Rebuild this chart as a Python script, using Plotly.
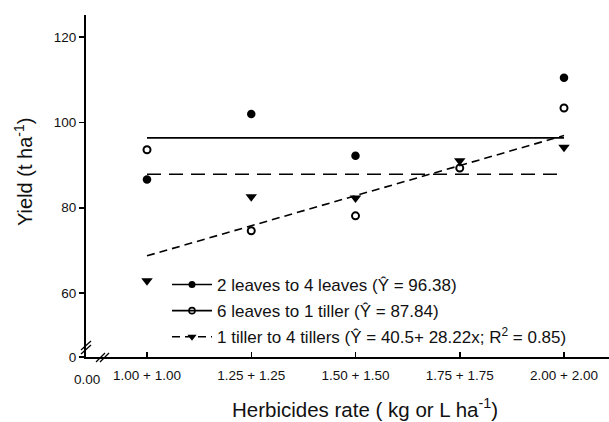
import plotly.graph_objects as go

# ---- data ----
rates = [1.00, 1.25, 1.50, 1.75, 2.00]
rate_labels = ["1.00 + 1.00", "1.25 + 1.25", "1.50 + 1.50", "1.75 + 1.75", "2.00 + 2.00"]
two_leaves = [86.6, 102.0, 92.2, None, 110.5]
six_leaves = [93.6, 74.6, 78.1, 89.3, 103.4]
one_tiller = [62.9, 82.6, 82.3, 91.0, 94.2]
mean_two = 96.38
mean_six = 87.84
reg_a, reg_b = 40.5, 28.22
y_ticks = [45, 60, 80, 100, 120]
y_tick_labels = ["0", "60", "80", "100", "120"]

names = ["2 leaves to 4 leaves (Ŷ = 96.38)",
         "6 leaves to 1 tiller (Ŷ = 87.84)",
         "1 tiller to 4 tillers (Ŷ = 40.5+ 28.22x; R<sup>2</sup> = 0.85)"]

FONT = "Liberation Sans, Arial, sans-serif"
W, H = 609, 422
L, R, T, B = 86, 0, 15, 65
pw, ph = W - L - R, H - T - B

fig = go.Figure()

x_line = [rates[0], rates[-1]]
# fitted lines
fig.add_trace(go.Scatter(x=x_line, y=[mean_two, mean_two], mode="lines",
                         line=dict(color="black", width=1.6), showlegend=False, hoverinfo="skip"))
fig.add_trace(go.Scatter(x=x_line, y=[mean_six, mean_six], mode="lines",
                         line=dict(color="black", width=1.6, dash="14px,8px"), showlegend=False, hoverinfo="skip"))
fig.add_trace(go.Scatter(x=x_line, y=[reg_a + reg_b * v for v in x_line], mode="lines",
                         line=dict(color="black", width=1.6, dash="8px,5px"), showlegend=False, hoverinfo="skip"))

# points
fig.add_trace(go.Scatter(x=rates, y=two_leaves, mode="markers",
                         marker=dict(symbol="circle", size=8.5, color="black"), showlegend=False))
fig.add_trace(go.Scatter(x=rates, y=six_leaves, mode="markers",
                         marker=dict(symbol="circle-open", size=7, color="black", line=dict(width=2)), showlegend=False))
fig.add_trace(go.Scatter(x=rates, y=one_tiller, mode="markers",
                         marker=dict(symbol="triangle-down", size=10, color="black"), showlegend=False))

# legend entries
fig.add_trace(go.Scatter(x=[None], y=[None], mode="lines+markers", name=names[0], legendgroup="a",
                         line=dict(color="black", width=1.6),
                         marker=dict(symbol="circle", size=7, color="black")))
fig.add_trace(go.Scatter(x=[None], y=[None], mode="lines+markers", name=names[1], legendgroup="b",
                         line=dict(color="black", width=1.6),
                         marker=dict(symbol="circle-open", size=6, color="black", line=dict(width=1.6))))
fig.add_trace(go.Scatter(x=[None], y=[None], mode="lines+markers", name=names[2], legendgroup="c",
                         line=dict(color="black", width=1.6, dash="8px,5px"),
                         marker=dict(symbol="triangle-down", size=8, color="black")))

x0 = rates[0] - 61 / 417
x1 = x0 + pw / 417

def px(xp):
    return (xp - L) / pw

def py(yp):
    return (H - B - yp) / ph

shapes = []
# y-axis break marks
for dy in (0, 4):
    shapes.append(dict(type="line", xref="paper", yref="paper",
                       x0=px(81), y0=py(350 + dy), x1=px(91), y1=py(341 + dy),
                       line=dict(color="black", width=1.3)))
# x-axis break marks
for dx in (0, 4):
    shapes.append(dict(type="line", xref="paper", yref="paper",
                       x0=px(96 + dx), y0=py(362), x1=px(105 + dx), y1=py(353),
                       line=dict(color="black", width=1.3)))

fig.update_layout(
    width=W, height=H,
    margin=dict(l=L, r=R, t=T, b=B, autoexpand=False),
    paper_bgcolor="white", plot_bgcolor="white",
    font=dict(family=FONT, size=13, color="#111"),
    hovermode=False,
    shapes=shapes,
    legend=dict(x=px(167), y=py(267), xanchor="left", yanchor="top",
                bgcolor="rgba(0,0,0,0)", font=dict(size=17, color="#111"),
                traceorder="grouped", tracegroupgap=1, itemwidth=40),
    annotations=[
        dict(text="Yield (t ha<sup>-1</sup>)", xref="paper", yref="paper",
             x=px(24), y=py(172), xanchor="center", yanchor="middle",
             showarrow=False, textangle=-90,
             font=dict(size=20, color="#111")),
        dict(text="Herbicides rate ( kg or L ha<sup>-1</sup>)", xref="paper", yref="paper",
             x=px(365), y=py(408), xanchor="center", yanchor="middle",
             showarrow=False,
             font=dict(size=20.5, color="#111")),
        dict(text="0.00", xref="paper", yref="paper", x=px(87), y=py(379),
             xanchor="center", yanchor="middle",
             showarrow=False, font=dict(size=13.5, color="#111")),
    ],
)

fig.update_xaxes(range=[x0, x1], tickmode="array", tickvals=rates, ticktext=rate_labels,
                 showgrid=False, zeroline=False, showline=True, linecolor="black", linewidth=2,
                 ticks="inside", ticklen=5, tickwidth=1.5, tickcolor="black",
                 tickfont=dict(size=13.5), automargin=False, tickangle=0,
                 ticklabeloverflow="allow", ticklabelstandoff=5)
fig.update_yaxes(range=[45, 125.2], tickmode="array", tickvals=y_ticks, ticktext=y_tick_labels,
                 showgrid=False, zeroline=False, showline=True, linecolor="black", linewidth=2,
                 ticks="outside", ticklen=5, tickwidth=1.5, tickcolor="black",
                 tickfont=dict(size=13.5), automargin=False)

fig.write_html("out.html", config={"displayModeBar": False, "staticPlot": True},
               post_script="document.body.style.margin='0';document.body.style.overflow='hidden';")
